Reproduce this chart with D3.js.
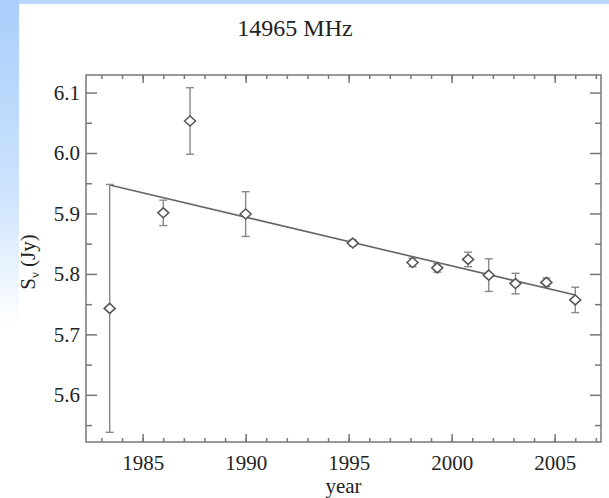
<!DOCTYPE html>
<html>
<head>
<meta charset="utf-8">
<script src="https://cdn.jsdelivr.net/npm/d3@7"></script>
<style>
  html, body { margin: 0; padding: 0; background: #fff; }
  svg { display: block; font-family: "Liberation Serif", "DejaVu Serif", serif; }
</style>
</head>
<body>
<script>
// data
const years = [1983.4, 1986.0, 1987.3, 1990.0, 1995.2, 1998.1, 1999.3, 2000.8, 2001.8, 2003.1, 2004.6, 2006.0];
const flux  = [5.743, 5.901, 6.053, 5.899, 5.851, 5.819, 5.810, 5.824, 5.798, 5.784, 5.786, 5.757];
const errs  = [0.205, 0.021, 0.055, 0.037, 0.005, 0.007, 0.007, 0.012, 0.027, 0.017, 0.007, 0.021];
const fitYears = [1983.4, 2006.0];
const fitFlux  = [5.947, 5.765];
const xMajor = [1985, 1990, 1995, 2000, 2005];
const xMinor = d3.range(1983, 2008);
const yMajor = [5.6, 5.7, 5.8, 5.9, 6.0, 6.1];
const yMinor = [5.55, 5.65, 5.75, 5.85, 5.95, 6.05];

const width = 609, height = 498;
const margin = {left: 86, right: 8, top: 75, bottom: 56};

const svg = d3.select('body').append('svg')
    .attr('width', width)
    .attr('height', height);

// light blue frame at top and left
const defs = svg.append('defs');
const grad = defs.append('linearGradient')
    .attr('id', 'leftband').attr('x1', 0).attr('y1', 0).attr('x2', 0).attr('y2', 1);
grad.append('stop').attr('offset', '0%').attr('stop-color', '#a8cefb');
grad.append('stop').attr('offset', '40%').attr('stop-color', '#cfe4fd');
grad.append('stop').attr('offset', '65%').attr('stop-color', '#ffffff');
svg.append('rect').attr('width', width).attr('height', 4).attr('fill', '#b7d8fc');
svg.append('rect').attr('width', 19).attr('height', height).attr('fill', 'url(#leftband)');

const x = d3.scaleLinear()
    .domain([1982.25, 2007.25])
    .range([margin.left, width - margin.right]);
const y = d3.scaleLinear()
    .domain([5.522, 6.129])
    .range([height - margin.bottom, margin.top]);

const axisColor = '#777';
const textColor = '#222';

function styleAxis(g) {
    g.select('.domain').remove();
    g.selectAll('line').attr('stroke', axisColor).attr('stroke-width', 1.5);
    g.selectAll('text').attr('fill', textColor).attr('font-size', 21)
        .attr('font-family', '"Liberation Serif", serif');
}

const x0 = margin.left, x1 = width - margin.right;
const y0 = height - margin.bottom, y1 = margin.top;

// bottom
svg.append('g').attr('transform', `translate(0,${y0})`)
    .call(d3.axisBottom(x).tickValues(xMinor).tickSize(-4).tickFormat(''))
    .call(styleAxis);
svg.append('g').attr('transform', `translate(0,${y0})`)
    .call(d3.axisBottom(x).tickValues(xMajor).tickSize(-8).tickPadding(13).tickFormat(d3.format('d')))
    .call(styleAxis);
// top
svg.append('g').attr('transform', `translate(0,${y1})`)
    .call(d3.axisTop(x).tickValues(xMinor).tickSize(-4).tickFormat(''))
    .call(styleAxis);
svg.append('g').attr('transform', `translate(0,${y1})`)
    .call(d3.axisTop(x).tickValues(xMajor).tickSize(-8).tickFormat(''))
    .call(styleAxis);
// left
svg.append('g').attr('transform', `translate(${x0},0)`)
    .call(d3.axisLeft(y).tickValues(yMinor).tickSize(-6).tickFormat(''))
    .call(styleAxis);
svg.append('g').attr('transform', `translate(${x0},0)`)
    .call(d3.axisLeft(y).tickValues(yMajor).tickSize(-11).tickPadding(6).tickFormat(d3.format('.1f')))
    .call(styleAxis);
// right
svg.append('g').attr('transform', `translate(${x1},0)`)
    .call(d3.axisRight(y).tickValues(yMinor).tickSize(-6).tickFormat(''))
    .call(styleAxis);
svg.append('g').attr('transform', `translate(${x1},0)`)
    .call(d3.axisRight(y).tickValues(yMajor).tickSize(-11).tickFormat(''))
    .call(styleAxis);

// frame
svg.append('rect')
    .attr('x', x0).attr('y', y1)
    .attr('width', x1 - x0).attr('height', y0 - y1)
    .attr('fill', 'none').attr('stroke', axisColor).attr('stroke-width', 1.5);

// fit line
svg.append('path')
    .datum(d3.zip(fitYears, fitFlux))
    .attr('d', d3.line().x(d => x(d[0])).y(d => y(d[1])))
    .attr('fill', 'none').attr('stroke', '#666').attr('stroke-width', 1.6);

const pts = years.map((yr, i) => ({year: yr, v: flux[i], e: errs[i]}));

// error bars
const eb = svg.append('g').attr('stroke', '#888').attr('stroke-width', 1.4);
eb.selectAll('.bar').data(pts).enter().append('line')
    .attr('x1', d => x(d.year)).attr('x2', d => x(d.year))
    .attr('y1', d => y(d.v - d.e)).attr('y2', d => y(d.v + d.e));
eb.selectAll('.capHi').data(pts).enter().append('line')
    .attr('x1', d => x(d.year) - 4).attr('x2', d => x(d.year) + 4)
    .attr('y1', d => y(d.v + d.e)).attr('y2', d => y(d.v + d.e));
eb.selectAll('.capLo').data(pts).enter().append('line')
    .attr('x1', d => x(d.year) - 4).attr('x2', d => x(d.year) + 4)
    .attr('y1', d => y(d.v - d.e)).attr('y2', d => y(d.v - d.e));

// diamond markers
svg.append('g').selectAll('path').data(pts).enter().append('path')
    .attr('transform', d => `translate(${x(d.year)},${y(d.v)})`)
    .attr('d', 'M-5.5,0L0,-5L5.5,0L0,5Z')
    .attr('fill', '#fff').attr('stroke', '#555').attr('stroke-width', 1.5);

// title and axis labels
svg.append('text')
    .attr('x', 295).attr('y', 36)
    .attr('text-anchor', 'middle')
    .attr('font-size', 24).attr('fill', textColor)
    .text('14965 MHz');

svg.append('text')
    .attr('x', (x0 + x1) / 2).attr('y', 493)
    .attr('text-anchor', 'middle')
    .attr('font-size', 21).attr('fill', textColor)
    .text('year');

const yl = svg.append('text')
    .attr('transform', 'translate(35,262) rotate(-90)')
    .attr('text-anchor', 'middle')
    .attr('font-size', 21).attr('fill', textColor);
yl.append('tspan').text('S');
yl.append('tspan').attr('font-size', 13).attr('dy', 4).text('ν');
yl.append('tspan').attr('dy', -4).text(' (Jy)');
</script>
</body>
</html>
